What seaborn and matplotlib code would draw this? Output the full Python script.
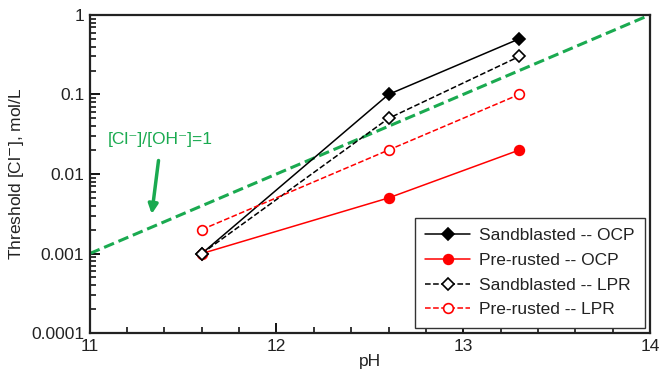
import numpy as np
import pandas as pd
import matplotlib
matplotlib.use("Agg")
import matplotlib.pyplot as plt
import seaborn as sns
from matplotlib.ticker import LogLocator, MultipleLocator, FixedLocator, FixedFormatter, NullFormatter

ph = [11.6, 12.6, 13.3]
sand_ocp = [0.001, 0.1, 0.5]
pre_ocp = [0.001, 0.005, 0.02]
sand_lpr = [0.001, 0.05, 0.3]
pre_lpr = [0.002, 0.02, 0.1]
ratio_ph = [11, 14]
ratio_cl = [0.001, 1.0]
yticks = [0.0001, 0.001, 0.01, 0.1, 1]
ytick_labels = ["0.0001", "0.001", "0.01", "0.1", "1"]
xticks = [11, 12, 13, 14]

sns.set_theme(style="ticks")
plt.rcParams['font.family'] = ['Liberation Sans', 'DejaVu Sans']

fig = plt.figure(figsize=(6.7, 3.82), dpi=100)
ax = fig.add_axes([0.134, 0.128, 0.836, 0.833])

green = "#1aaa50"
ratio_df = pd.DataFrame({"pH": ratio_ph, "Cl": ratio_cl})
sns.lineplot(data=ratio_df, x="pH", y="Cl", ax=ax, color=green, lw=2.2,
             linestyle=(0, (3.5, 1.6)), legend=False)

series = [
    ("Sandblasted -- OCP", sand_ocp, "black", "-", "D", "black"),
    ("Pre-rusted -- OCP", pre_ocp, "red", "-", "o", "red"),
    ("Sandblasted -- LPR", sand_lpr, "black", "--", "D", "white"),
    ("Pre-rusted -- LPR", pre_lpr, "red", "--", "o", "white"),
]
handles = []
for name, vals, col, ls, mk, fc in series:
    df = pd.DataFrame({"pH": ph, "Cl": vals})
    sns.lineplot(data=df, x="pH", y="Cl", ax=ax, color=col, linestyle=ls,
                 lw=1.1, marker=mk, markersize=7 if mk == "o" else 6,
                 markerfacecolor=fc, markeredgecolor=col, markeredgewidth=1.2,
                 legend=False)
    h, = ax.plot([], [], color=col, linestyle=ls, lw=1.1, marker=mk,
                 markersize=7 if mk == "o" else 6, markerfacecolor=fc,
                 markeredgecolor=col, markeredgewidth=1.2, label=name)
    handles.append(h)

ax.set_yscale("log")
ax.set_xlim(11, 14)
ax.set_ylim(0.0001, 1)
ax.yaxis.set_major_locator(FixedLocator(yticks))
ax.yaxis.set_major_formatter(FixedFormatter(ytick_labels))
ax.yaxis.set_minor_locator(LogLocator(base=10, subs=np.arange(2, 10), numticks=20))
ax.yaxis.set_minor_formatter(NullFormatter())
ax.xaxis.set_major_locator(FixedLocator(xticks))
ax.xaxis.set_minor_locator(MultipleLocator(0.2))

ax.tick_params(axis="both", which="major", direction="in", length=7, width=1.3,
               color="black", labelsize=12.5, labelcolor="#222222", pad=4,
               bottom=True, left=True, top=False, right=False)
ax.tick_params(axis="both", which="minor", direction="in", length=4, width=1.1,
               color="black", bottom=True, left=True, top=False, right=False)
for s in ax.spines.values():
    s.set_color("#222222")
    s.set_linewidth(1.6)

ax.set_xlabel("pH", fontsize=12.5, color="#222222", labelpad=0)
ax.set_ylabel("Threshold [Cl$^{-}$], mol/L", fontsize=12.5, color="#222222", labelpad=4)

ax.annotate("", xy=(11.33, 0.0029), xytext=(11.37, 0.016),
            arrowprops=dict(arrowstyle="-|>", color=green, lw=2.5,
                            mutation_scale=14))
ax.text(11.375, 0.027, "[Cl\u207b]/[OH\u207b]=1", color=green, fontsize=12.5,
        ha="center", va="center", family=['Liberation Sans', 'DejaVu Sans'])

leg = ax.legend(handles=handles, loc="lower right", fontsize=12.5, frameon=True,
                fancybox=False, edgecolor="#333333", framealpha=1,
                handlelength=2.6, handletextpad=0.5, labelspacing=0.55,
                borderpad=0.6, borderaxespad=0.3)
leg.get_frame().set_linewidth(1.0)
for t in leg.get_texts():
    t.set_color("#222222")

fig.savefig("out.png", dpi=100)
